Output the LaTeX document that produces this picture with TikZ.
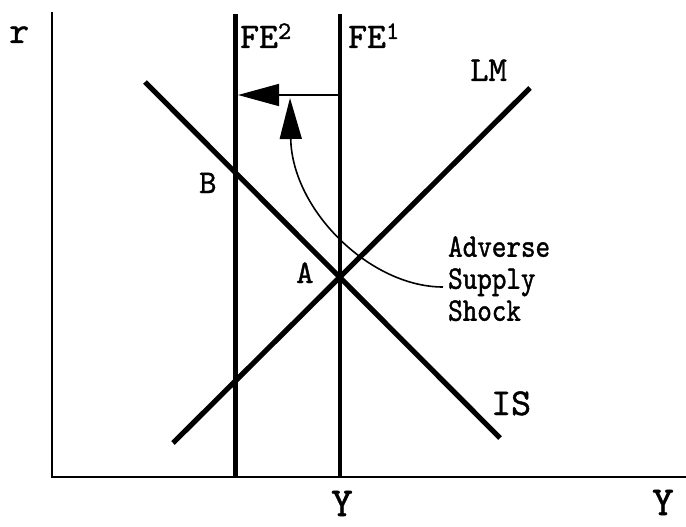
\documentclass[tikz,border=0pt]{standalone}
\usepackage{fontspec}
\newfontfamily\labfont[FakeBold=1.2]{lmmono10-regular.otf}
\newfontfamily\narrowmono[FakeBold=1.2, FakeStretch=0.84]{lmmono10-regular.otf}
\usetikzlibrary{arrows.meta,positioning}

\begin{document}
\begin{tikzpicture}[x=1pt, y=-1pt,
  axis/.style={line width=2.8pt},
  curve/.style={line width=5.2pt},
  fe/.style={line width=4.5pt},
  shiftarrow/.style={line width=1.6pt, -{Triangle[length=41pt, width=22pt]}},
  lab/.style={inner sep=0pt, anchor=base west, font=\labfont\fontsize{33}{33}\selectfont},
  felab/.style={lab, font=\labfont\fontsize{36}{36}\selectfont},
  biglab/.style={lab, font=\labfont\fontsize{41}{41}\selectfont},
  shock/.style={inner sep=0pt, anchor=north west, align=left, font=\narrowmono\fontsize{33}{32}\selectfont}]
  \useasboundingbox (0,0) rectangle (686,527);
  % axes
  \coordinate (top) at (52,12);
  \coordinate (o) at (52,477);
  \coordinate (right) at (686,477);
  \draw[axis] (top) -- (o) -- (right);
  \node[lab, font=\labfont\fontsize{38}{38}\selectfont] (r) at (9,43) {r};
  \node[biglab] (y) at (652,515) {Y};
  % full employment lines
  \coordinate (fe2top) at (235.5,14);
  \coordinate (fe2bot) at (235.5,477);
  \coordinate (fe1top) at (340,14);
  \coordinate (fe1bot) at (340,477);
  \draw[fe] (fe2top) -- (fe2bot);
  \draw[fe] (fe1top) -- (fe1bot);
  \node[felab] (fe2) at (240,48) {FE\textsuperscript{2}};
  \node[felab] (fe1) at (348,48) {FE\textsuperscript{1}};
  \node[biglab] (ybar) at (331,516) {Y};
  % IS and LM
  \coordinate (is0) at (145,82);
  \coordinate (is1) at (500,438);
  \coordinate (lm0) at (173,443);
  \coordinate (lm1) at (530,88);
  \draw[curve] (is0) -- (is1);
  \draw[curve] (lm0) -- (lm1);
  \node[lab, font=\labfont\fontsize{38}{38}\selectfont] (is) at (491,415) {IS};
  \node[lab, font=\labfont\fontsize{35}{35}\selectfont] (lm) at (470,81) {LM};
  \node[lab] (a) at (296,283) {A};
  \node[lab] (b) at (199,193) {B};
  % shock
  \coordinate (h1) at (340,95);
  \coordinate (h2) at (238,95);
  \draw[shiftarrow] (h1) -- (h2);
  \node[shock] (shk) at (448,236) {Adverse\\Supply\\Shock};
  \coordinate (s0) at (443,287);
  \coordinate (s1) at (290,98);
  \draw[shiftarrow] (s0) .. controls (370,287) and (292,210) .. (s1);
\end{tikzpicture}
\end{document}
